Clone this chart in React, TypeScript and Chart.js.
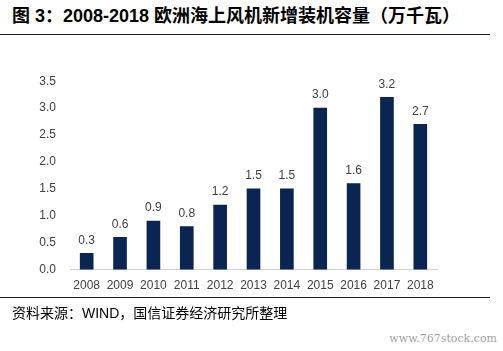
import React, { useEffect, useRef } from "react";
import { Chart, registerables } from "chart.js";

Chart.register(...registerables);

const categories = ["2008", "2009", "2010", "2011", "2012", "2013", "2014", "2015", "2016", "2017", "2018"];
const capacity = [0.3, 0.6, 0.9, 0.8, 1.2, 1.5, 1.5, 3.0, 1.6, 3.2, 2.7];
const yTicks = [0, 0.5, 1.0, 1.5, 2.0, 2.5, 3.0, 3.5];

const titleText = "图 3：2008-2018 欧洲海上风机新增装机容量（万千瓦）";
const sourceText = "资料来源：WIND，国信证券经济研究所整理";
const watermark = "www.767stock.com";

const labelPlugin = {
  id: "valueLabels",
  afterDatasetsDraw(chart: any) {
    const ctx = chart.ctx;
    const meta = chart.getDatasetMeta(0);
    ctx.save();
    ctx.font = '12px "Liberation Sans", Arial, sans-serif';
    ctx.fillStyle = "#404040";
    ctx.textAlign = "center";
    ctx.textBaseline = "bottom";
    meta.data.forEach((bar: any, i: number) => {
      ctx.fillText(capacity[i].toFixed(1), bar.x, bar.y - 7);
    });
    ctx.restore();
  },
};

export default function App() {
  const ref = useRef<HTMLCanvasElement>(null);
  useEffect(() => {
    if (!ref.current) return;
    const chart = new Chart(ref.current, {
      type: "bar",
      data: {
        labels: categories,
        datasets: [
          {
            data: capacity,
            backgroundColor: "#0b2552",
            borderWidth: 0,
            barThickness: 13,
          },
        ],
      },
      options: {
        animation: false,
        responsive: false,
        maintainAspectRatio: false,
        layout: { padding: { left: 0, right: 66, top: 20, bottom: 0 } },
        plugins: { legend: { display: false }, tooltip: { enabled: false } },
        scales: {
          x: {
            grid: { display: false, drawTicks: false },
            border: { display: true, color: "#d0d0d0", width: 1 },
            ticks: {
              color: "#404040",
              font: { family: '"Liberation Sans", Arial, sans-serif', size: 12 },
              padding: 9,
              maxRotation: 0,
            },
          },
          y: {
            min: 0,
            max: 3.5,
            afterFit: (scale: any) => {
              scale.width = 70;
            },
            afterBuildTicks: (scale: any) => {
              scale.ticks = yTicks.map((v) => ({ value: v }));
            },
            grid: { display: false, drawTicks: false },
            border: { display: false },
            ticks: {
              color: "#404040",
              font: { family: '"Liberation Sans", Arial, sans-serif', size: 12 },
              padding: 14,
              callback: (v: any) => Number(v).toFixed(1),
            },
          },
        },
      },
      plugins: [labelPlugin],
    });
    return () => chart.destroy();
  }, []);

  return (
    <div
      style={{
        position: "fixed",
        left: 0,
        top: 0,
        width: 503,
        height: 351,
        background: "#fff",
        overflow: "hidden",
      }}
    >
      <div
        style={{
          position: "absolute",
          left: 12,
          top: 4,
          fontFamily: '"Liberation Sans", "Noto Sans CJK SC", sans-serif',
          fontWeight: "bold",
          fontSize: 18,
          lineHeight: "24px",
          color: "#000",
          whiteSpace: "nowrap",
        }}
      >
        {titleText}
      </div>
      <div style={{ position: "absolute", left: 0, top: 34, width: 490, height: 1, background: "#222" }} />
      <canvas
        ref={ref}
        width={503}
        height={242}
        style={{ position: "absolute", left: 0, top: 60, width: 503, height: 242 }}
      />
      <div style={{ position: "absolute", left: 0, top: 297, width: 490, height: 1, background: "#222" }} />
      <div
        style={{
          position: "absolute",
          left: 12,
          top: 303,
          fontFamily: '"Liberation Sans", "Noto Sans CJK SC", sans-serif',
          fontSize: 14,
          lineHeight: "20px",
          color: "#000",
          whiteSpace: "nowrap",
        }}
      >
        {sourceText}
      </div>
      <div
        style={{
          position: "absolute",
          right: 6,
          top: 332,
          fontFamily: '"DejaVu Serif", serif',
          fontSize: 11,
          lineHeight: "14px",
          color: "#a0a0a0",
          whiteSpace: "nowrap",
        }}
      >
        {watermark}
      </div>
    </div>
  );
}
